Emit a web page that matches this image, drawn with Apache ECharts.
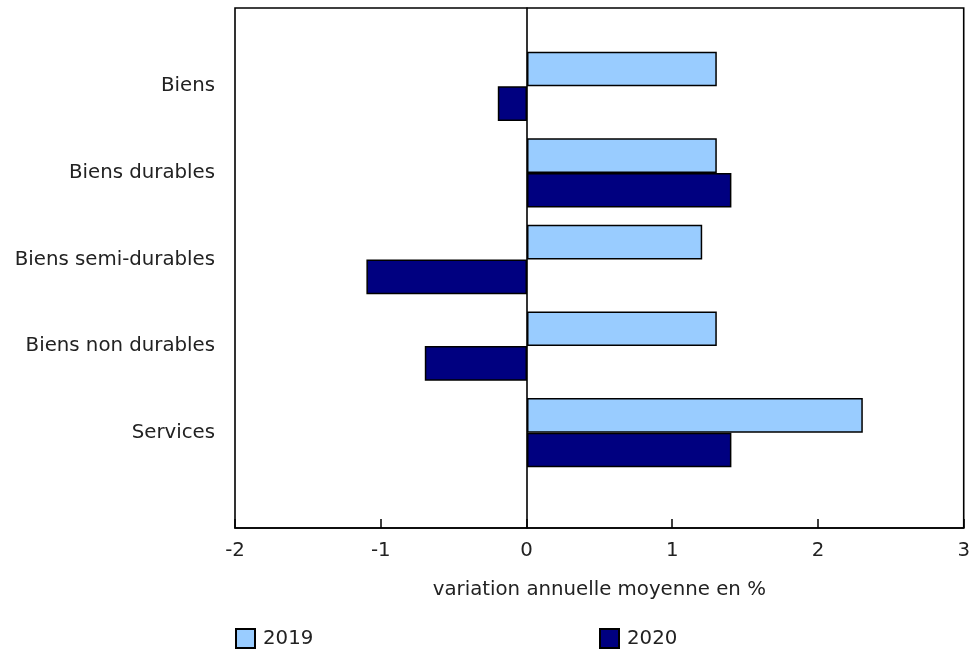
<!DOCTYPE html>
<html>
<head>
<meta charset="utf-8">
<script src="https://cdn.jsdelivr.net/npm/echarts@6/dist/echarts.min.js"></script>
<style>html,body{margin:0;padding:0;background:#fff}#c{width:973px;height:653px}</style>
</head>
<body>
<div id="c"></div>
<script>
const categories = ['Biens', 'Biens durables', 'Biens semi-durables', 'Biens non durables', 'Services'];
const values2019 = [1.3, 1.3, 1.2, 1.3, 2.3];
const values2020 = [-0.2, 1.4, -1.1, -0.7, 1.4];
const xTicks = { min: -2, max: 3, interval: 1 };
const axisTitle = 'variation annuelle moyenne en %';

const FONT = 'DejaVu Sans';
const FS = 19.75;
const chart = echarts.init(document.getElementById('c'), null, { renderer: 'canvas' });
chart.setOption({
  animation: false,
  textStyle: { fontFamily: FONT },
  grid: [
    { left: 235, right: 8, top: 8, bottom: 125, show: true, borderColor: '#000', borderWidth: 1.6, backgroundColor: 'transparent' },
    { left: 235, right: 8, top: 43, bottom: 177 }
  ],
  xAxis: [
    {
      gridIndex: 0, type: 'value', min: xTicks.min, max: xTicks.max, interval: xTicks.interval,
      axisLine: { show: true, lineStyle: { color: '#000', width: 1.6 } },
      axisTick: { show: true, inside: true, length: 9, lineStyle: { color: '#000', width: 1.5 } },
      splitLine: { show: false },
      axisLabel: { color: '#222', fontSize: FS, fontFamily: FONT, margin: 13 },
      name: axisTitle, nameLocation: 'middle', nameGap: 52,
      nameTextStyle: { color: '#222', fontSize: FS, fontFamily: FONT }
    },
    {
      gridIndex: 1, type: 'value', min: xTicks.min, max: xTicks.max, interval: xTicks.interval, show: false
    }
  ],
  yAxis: [
    {
      gridIndex: 0, type: 'category', data: categories, inverse: true,
      axisLine: { show: true, onZero: true, lineStyle: { color: '#000', width: 1.6 } },
      axisTick: { show: false }, axisLabel: { show: false }, splitLine: { show: false }
    },
    {
      gridIndex: 1, type: 'category', data: categories, inverse: true,
      axisLine: { show: false, onZero: false }, axisTick: { show: false }, splitLine: { show: false },
      axisLabel: { color: '#222', fontSize: FS, fontFamily: FONT, margin: 20 }
    }
  ],
  legend: [
    {
      data: ['2019'], left: 235, top: 628, padding: 0, icon: 'rect', itemWidth: 19, itemHeight: 19, itemGap: 8,
      textStyle: { color: '#222', fontSize: FS, fontFamily: FONT, padding: [0, 0, 0, 3] }
    },
    {
      data: ['2020'], left: 599, top: 628, padding: 0, icon: 'rect', itemWidth: 19, itemHeight: 19, itemGap: 8,
      textStyle: { color: '#222', fontSize: FS, fontFamily: FONT, padding: [0, 0, 0, 3] }
    }
  ],
  series: [
    {
      name: '2019', type: 'bar', xAxisIndex: 1, yAxisIndex: 1, data: values2019,
      barWidth: '40%', barGap: '0%',
      itemStyle: { color: '#99CCFF', borderColor: '#000', borderWidth: 1.5 }
    },
    {
      name: '2020', type: 'bar', xAxisIndex: 1, yAxisIndex: 1, data: values2020,
      barWidth: '40%', barGap: '0%',
      itemStyle: { color: '#000080', borderColor: '#000', borderWidth: 1.5 }
    }
  ]
});
</script>
</body>
</html>
